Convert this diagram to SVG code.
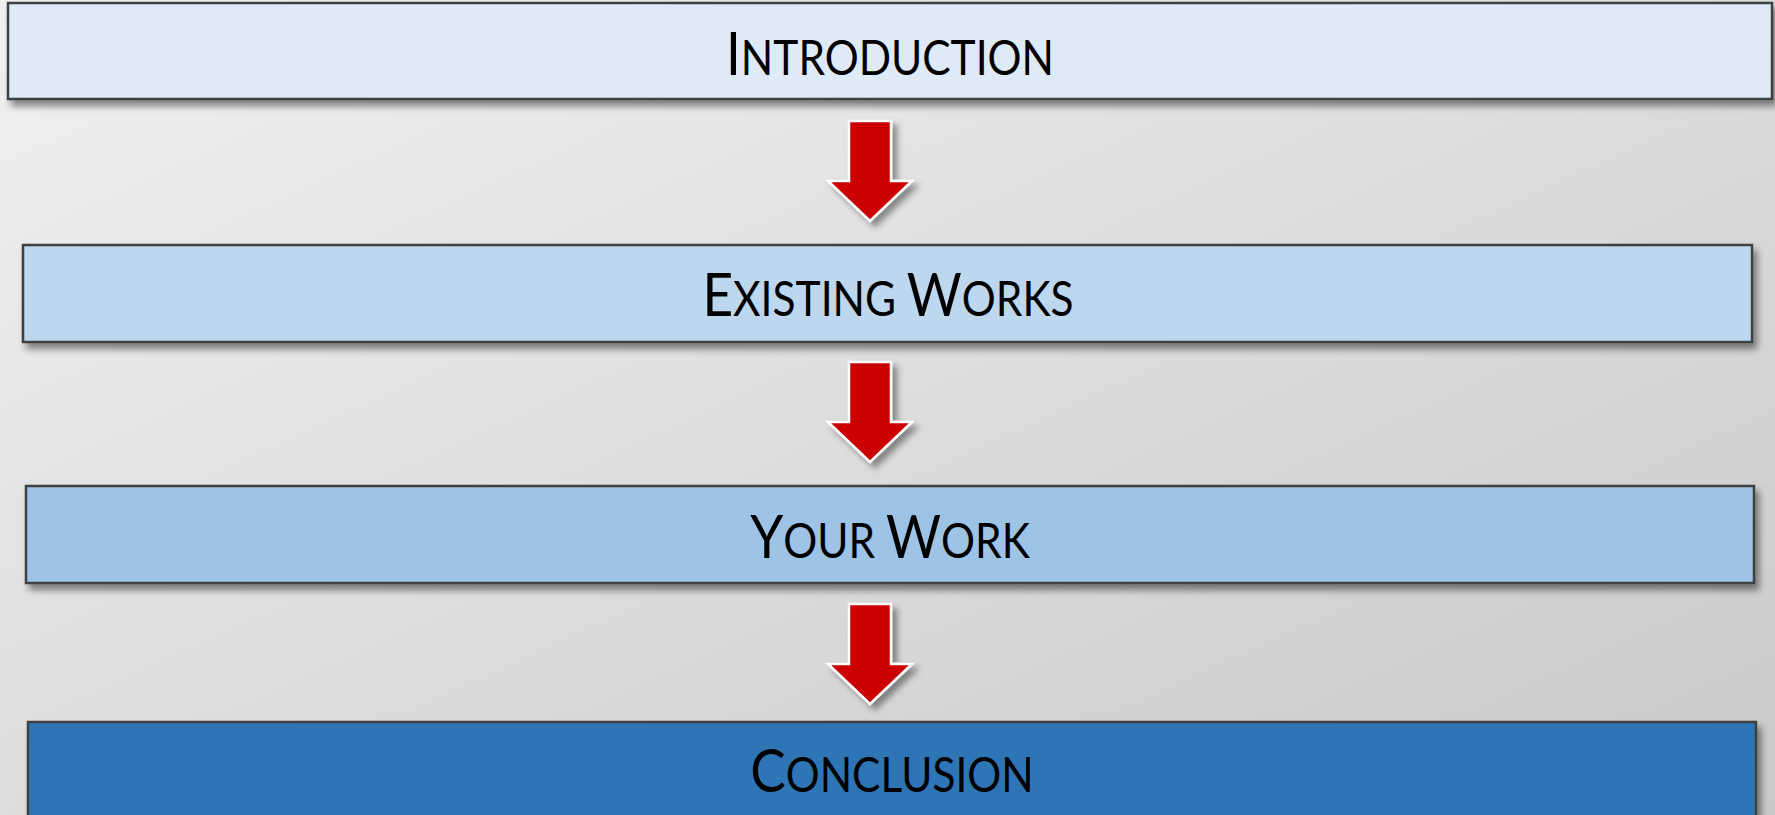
<svg xmlns="http://www.w3.org/2000/svg" width="1775" height="815" viewBox="0 0 1775 815">
<style>
.box{stroke:#404040;stroke-width:2.5}
.lbl{font-family:Lato,"Open Sans","Liberation Sans",sans-serif;fill:#000;text-anchor:middle}
.big{font-size:60px}
.sm{font-size:48px}
.arr{fill:#cc0000;stroke:#ffffff;stroke-width:2.5;stroke-linejoin:miter}
</style>
<defs>
<linearGradient id="bg" x1="0" y1="0" x2="1" y2="1">
<stop offset="0" stop-color="#f1f1f1"/>
<stop offset="1" stop-color="#c9c9c9"/>
</linearGradient>
<filter id="sh" x="-5%" y="-20%" width="110%" height="150%">
<feDropShadow dx="4" dy="6" stdDeviation="3.5" flood-color="#000" flood-opacity="0.45"/>
</filter>
<filter id="ash" x="-30%" y="-30%" width="160%" height="160%">
<feDropShadow dx="5" dy="5" stdDeviation="3" flood-color="#000" flood-opacity="0.4"/>
</filter>
</defs>
<rect width="1775" height="815" fill="url(#bg)"/>
<g id="introduction">
<rect class="box" x="8" y="3" width="1764" height="96" fill="#deeaf6" filter="url(#sh)"/>
<text class="lbl" transform="translate(890 75) scale(0.885 1)"><tspan class="big">I</tspan><tspan class="sm">NTRODUCTION</tspan></text>
</g>
<g id="existing-works">
<rect class="box" x="23" y="245" width="1729" height="97" fill="#bdd7ee" filter="url(#sh)"/>
<text class="lbl" transform="translate(888 316) scale(0.885 1)"><tspan class="big">E</tspan><tspan class="sm">XISTING </tspan><tspan class="big">W</tspan><tspan class="sm">ORKS</tspan></text>
</g>
<g id="your-work">
<rect class="box" x="26" y="486" width="1728" height="97" fill="#9dc3e6" filter="url(#sh)"/>
<text class="lbl" transform="translate(890 558) scale(0.885 1)"><tspan class="big">Y</tspan><tspan class="sm">OUR </tspan><tspan class="big">W</tspan><tspan class="sm">ORK</tspan></text>
</g>
<g id="conclusion">
<rect class="box" x="28" y="722" width="1728" height="110" fill="#2e75b6" filter="url(#sh)"/>
<text class="lbl" transform="translate(892 792) scale(0.885 1)"><tspan class="big">C</tspan><tspan class="sm">ONCLUSION</tspan></text>
</g>
<g id="connectors" filter="url(#ash)">
<path class="arr" d="M849,121 H891 V181 H912 L870,221 L828,181 H849 Z"/>
<path class="arr" d="M849,362 H891 V422 H912 L870,462 L828,422 H849 Z"/>
<path class="arr" d="M849,604 H891 V664 H912 L870,704 L828,664 H849 Z"/>
</g>
</svg>
